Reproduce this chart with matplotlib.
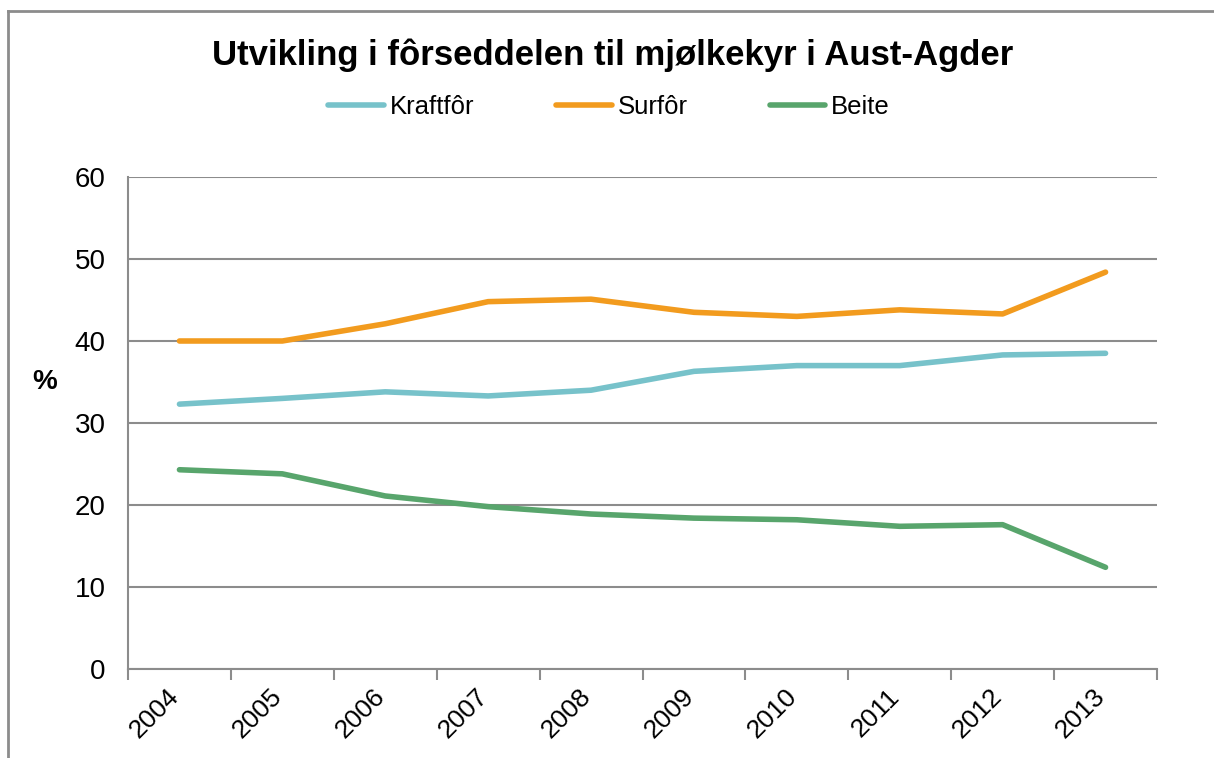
import matplotlib
matplotlib.use("Agg")
import matplotlib.pyplot as plt
from matplotlib.lines import Line2D
import matplotlib.transforms as mtransforms
import numpy as np

years = ["2004", "2005", "2006", "2007", "2008", "2009", "2010", "2011", "2012", "2013"]
kraftfor = [32.3, 33.0, 33.8, 33.3, 34.0, 36.3, 37.0, 37.0, 38.3, 38.5]
surfor = [40.0, 40.0, 42.1, 44.8, 45.1, 43.5, 43.0, 43.8, 43.3, 48.4]
beite = [24.3, 23.8, 21.1, 19.8, 18.9, 18.4, 18.2, 17.4, 17.6, 12.4]
yticks = [0, 10, 20, 30, 40, 50, 60]

plt.rcParams['font.family'] = ['Liberation Sans', 'DejaVu Sans']

fig = plt.figure(figsize=(12.14, 7.58), dpi=100)
ax = fig.add_axes([128/1214, 1 - 669/758, (1157-128)/1214, (669-177)/758])

grid_c = '#8c8c8c'
x = np.arange(len(years))
lw = 4.0
l1, = ax.plot(x, kraftfor, color='#77C2CA', lw=lw, solid_capstyle='round', label='Kraftfôr')
l2, = ax.plot(x, surfor, color='#F29B1E', lw=lw, solid_capstyle='round', label='Surfôr')
l3, = ax.plot(x, beite, color='#58A56C', lw=lw, solid_capstyle='round', label='Beite')

ax.set_xlim(-0.5, len(years) - 0.5)
ax.set_ylim(0, 60)
ax.set_yticks(yticks)
ax.set_yticklabels([str(v) for v in yticks], fontsize=20)
ax.tick_params(axis='y', length=0, pad=16)
ax.yaxis.grid(True, color=grid_c, lw=1.5)
ax.set_axisbelow(True)

ax.set_xticks(np.arange(-0.5, len(years), 1.0))
ax.set_xticklabels([])
ax.tick_params(axis='x', which='major', length=8, width=1.5, color=grid_c, direction='out')
ax.set_xticks(x, minor=True)
ax.set_xticklabels(years, minor=True, fontsize=19, rotation=45, ha='right', va='center',
                   rotation_mode='anchor')
ax.tick_params(axis='x', which='minor', length=0, pad=17)
offset = mtransforms.ScaledTranslation(-4/100, 0, fig.dpi_scale_trans)
for lab in ax.get_xticklabels(minor=True):
    lab.set_transform(lab.get_transform() + offset)

for s in ['top', 'right']:
    ax.spines[s].set_visible(False)
for s in ['left', 'bottom']:
    ax.spines[s].set_color(grid_c)
    ax.spines[s].set_linewidth(1.5)

fig.text(45/1214, 1 - 382/758, '%', fontsize=20, fontweight='bold', ha='center', va='center')

fig.text(613/1214, 1 - 55/758, 'Utvikling i fôrseddelen til mjølkekyr i Aust-Agder',
         ha='center', va='center', fontsize=25, fontweight='bold')

fig.legend(handles=[l1, l2, l3], loc='center', bbox_to_anchor=(609/1214, 1 - 107/758),
           ncol=3, frameon=False, fontsize=18.5, handlelength=2.15, handletextpad=0.23,
           columnspacing=3.2)

# outer frame (left and top)
fig.add_artist(Line2D([8/1214, 8/1214], [0, 1 - 11/758], transform=fig.transFigure, color=grid_c, lw=2))
fig.add_artist(Line2D([8/1214, 1213/1214], [1 - 11/758, 1 - 11/758], transform=fig.transFigure, color=grid_c, lw=2))

fig.savefig('out.png', dpi=100)
